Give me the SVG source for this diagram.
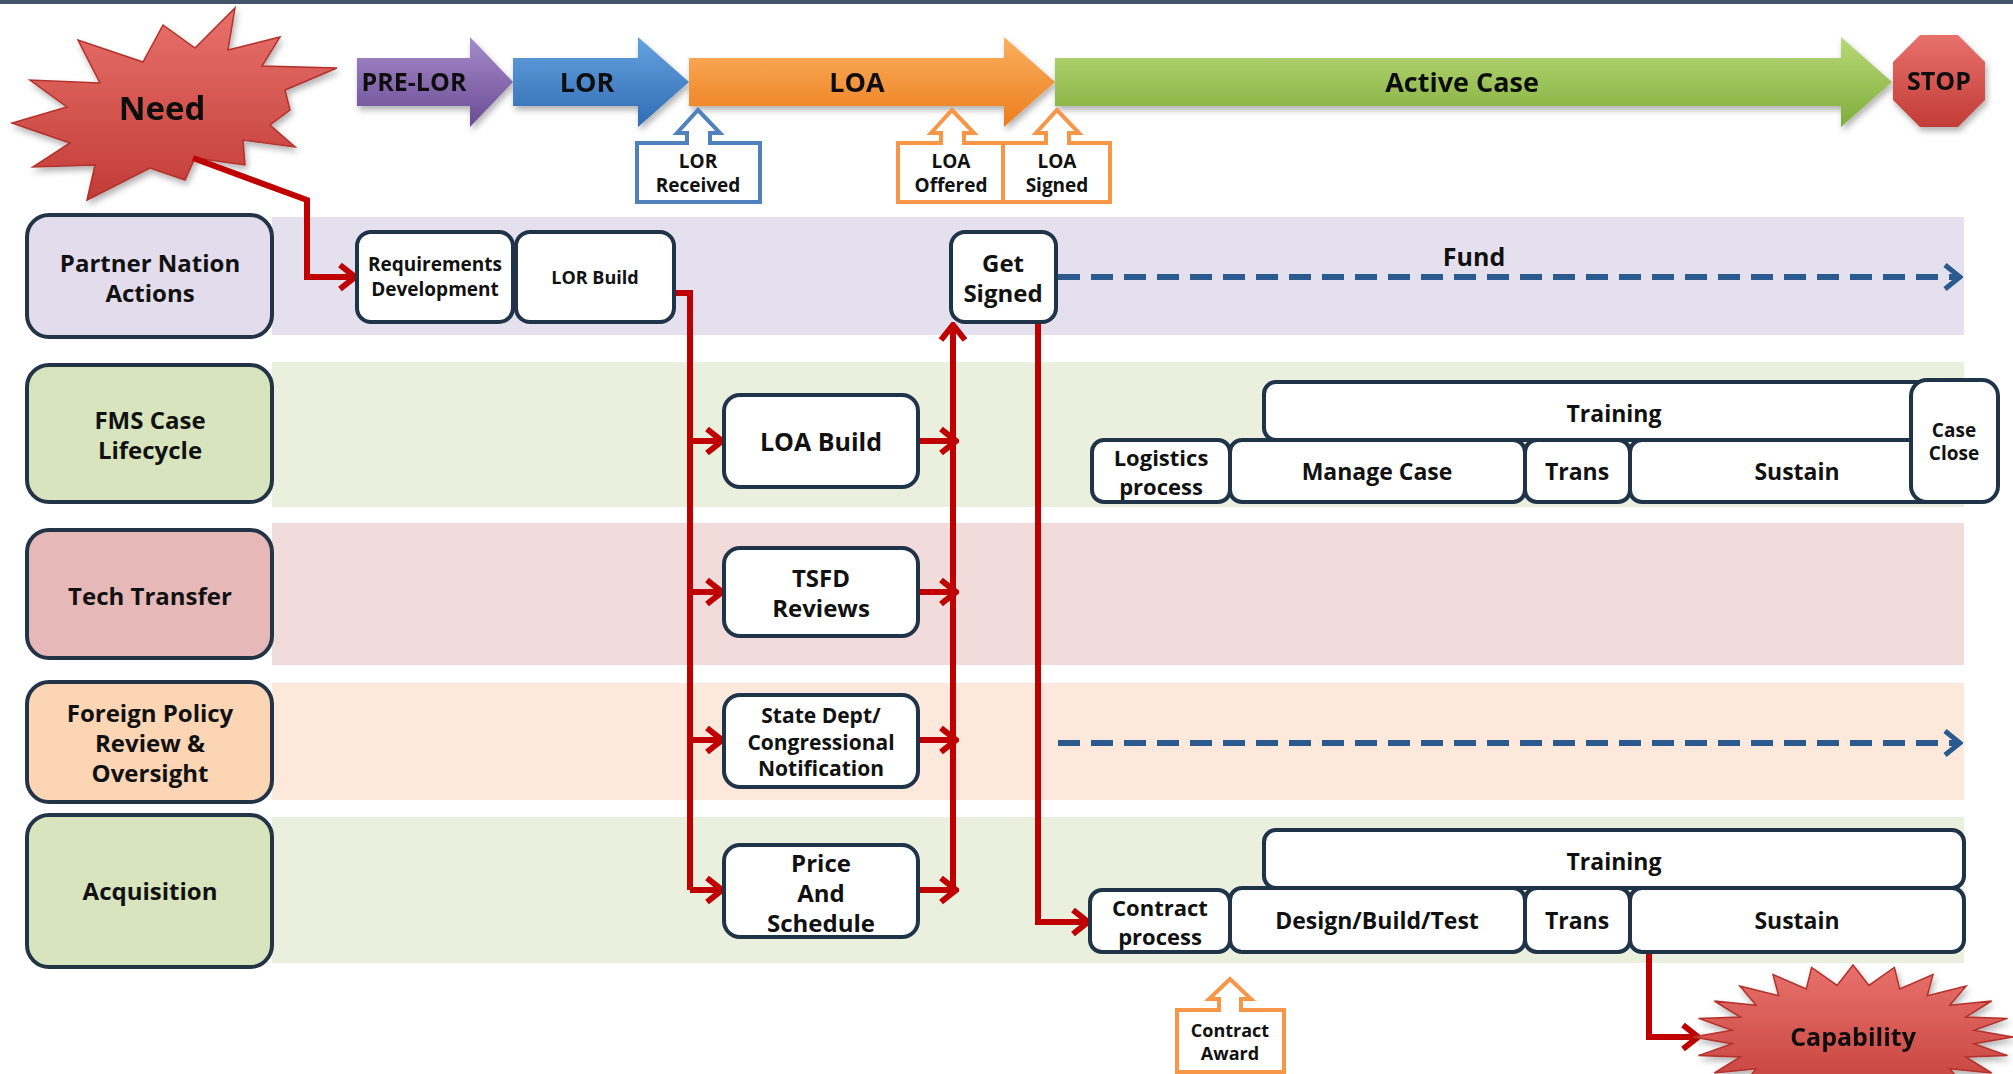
<svg xmlns="http://www.w3.org/2000/svg" width="2013" height="1074" viewBox="0 0 2013 1074">
<defs>
<style>
text{font-family:"Open Sans","Liberation Sans",sans-serif;font-weight:bold;fill:#111;text-anchor:middle;dominant-baseline:central}
.lab{stroke:#243447;stroke-width:4}
.node{fill:#fff;stroke:#1f3349;stroke-width:4}
.red{fill:none;stroke:#c00000;stroke-width:6;stroke-linejoin:miter}
.dash{fill:none;stroke:#2b5a8e;stroke-width:6;stroke-dasharray:22 11}
.co{fill:#fff;stroke-width:4}
.f24{font-size:24px}.f23{font-size:23px}.f22{font-size:22px}.f21{font-size:21px}.f19{font-size:19px}.f18{font-size:18px}.f27{font-size:27px}
</style>
<linearGradient id="gP" x1="0" y1="0" x2="0" y2="1"><stop offset="0" stop-color="#a58bcb"/><stop offset="1" stop-color="#6a4b93"/></linearGradient>
<linearGradient id="gB" x1="0" y1="0" x2="0" y2="1"><stop offset="0" stop-color="#66a2e0"/><stop offset="1" stop-color="#2f6cb3"/></linearGradient>
<linearGradient id="gO" x1="0" y1="0" x2="0" y2="1"><stop offset="0" stop-color="#fbb060"/><stop offset="1" stop-color="#ec7d1c"/></linearGradient>
<linearGradient id="gG" x1="0" y1="0" x2="0" y2="1"><stop offset="0" stop-color="#b9d978"/><stop offset="1" stop-color="#80ad3c"/></linearGradient>
<linearGradient id="gR" x1="0" y1="0" x2="0" y2="1"><stop offset="0" stop-color="#e8716c"/><stop offset="1" stop-color="#c23c37"/></linearGradient>
<filter id="sh" x="-10%" y="-10%" width="130%" height="140%"><feDropShadow dx="2" dy="4" stdDeviation="3" flood-color="#000" flood-opacity="0.3"/></filter>
<marker id="ar" viewBox="0 0 20 30" markerWidth="20" markerHeight="30" refX="17" refY="15" orient="auto" markerUnits="userSpaceOnUse"><path d="M2,3 L17,15 L2,27" fill="none" stroke="#c00000" stroke-width="6"/></marker>
<marker id="ab" viewBox="0 0 20 30" markerWidth="20" markerHeight="30" refX="17" refY="15" orient="auto" markerUnits="userSpaceOnUse"><path d="M2,3 L17,15 L2,27" fill="none" stroke="#2b5a8e" stroke-width="5"/></marker>
</defs>
<rect x="0" y="0" width="2013" height="1074" fill="#fff"/>
<rect x="0" y="0" width="2013" height="4" fill="#44546a"/>

<g id="bands">
<rect x="272" y="217" width="1692" height="118" fill="#e5e0ee"/>
<rect x="272" y="362" width="1692" height="145" fill="#eaf0dd"/>
<rect x="272" y="523" width="1692" height="142" fill="#f2dcdb"/>
<rect x="272" y="683" width="1692" height="117" fill="#fde9db"/>
<rect x="272" y="817" width="1692" height="146" fill="#eaf0dd"/>
</g>

<g id="lane-partner"><rect class="lab" x="27" y="215" width="245" height="122" rx="22" fill="#e2dcec"/><text class="f24" x="150" y="262">Partner Nation</text><text class="f24" x="150" y="292">Actions</text></g>
<g id="lane-fms"><rect class="lab" x="27" y="365" width="245" height="137" rx="22" fill="#d7e4bd"/><text class="f24" x="150" y="419">FMS Case</text><text class="f24" x="150" y="449">Lifecycle</text></g>
<g id="lane-tech"><rect class="lab" x="27" y="530" width="245" height="128" rx="22" fill="#e6b9b8"/><text class="f24" x="150" y="595">Tech Transfer</text></g>
<g id="lane-foreign"><rect class="lab" x="27" y="682" width="245" height="120" rx="22" fill="#fcd5b5"/><text class="f24" x="150" y="712">Foreign Policy</text><text class="f24" x="150" y="742">Review &amp;</text><text class="f24" x="150" y="772">Oversight</text></g>
<g id="lane-acq"><rect class="lab" x="27" y="815" width="245" height="152" rx="22" fill="#d7e4bd"/><text class="f24" x="150" y="890">Acquisition</text></g>

<g id="phase-prelor" filter="url(#sh)"><path d="M357,58 H470 V37 L513,82 L470,127 V106 H357 Z" fill="url(#gP)"/><text x="414" y="81" style="font-size:25px">PRE-LOR</text></g>
<g id="phase-lor" filter="url(#sh)"><path d="M513,58 H638 V37 L689,82 L638,127 V106 H513 Z" fill="url(#gB)"/><text class="f27" x="587" y="81">LOR</text></g>
<g id="phase-loa" filter="url(#sh)"><path d="M689,58 H1004 V37 L1055,82 L1004,127 V106 H689 Z" fill="url(#gO)"/><text class="f27" x="857" y="81">LOA</text></g>
<g id="phase-active" filter="url(#sh)"><path d="M1055,58 H1841 V37 L1892,82 L1841,127 V106 H1055 Z" fill="url(#gG)"/><text class="f27" x="1462" y="81">Active Case</text></g>
<g id="stop" filter="url(#sh)"><polygon points="1920,35 1958,35 1985,62 1985,100 1958,127 1920,127 1893,100 1893,62" fill="url(#gR)"/><text x="1939" y="80" style="font-size:25px">STOP</text></g>

<g id="need" filter="url(#sh)"><polygon points="235,8 228,50 280,37 262,66 337,68 285,90 290,110 270,125 295,147 243,140 245,165 195,158 185,180 150,168 87,200 95,165 33,167 70,143 12,123 67,107 30,80 100,83 78,40 143,62 163,25 195,48" fill="url(#gR)" stroke="#b3302c" stroke-width="1.5"/><text x="162" y="107" style="font-size:33px">Need</text></g>

<g id="callout-lor-received"><path class="co" stroke="#4f81bd" d="M637,143 H687 V133 H677 L698,110 L720,133 H710 V143 H760 V202 H637 Z"/><text class="f19" x="698" y="161">LOR</text><text class="f19" x="698" y="185">Received</text></g>
<g id="callout-loa-offered"><path class="co" stroke="#f79646" d="M898,143 H941 V133 H931 L952,110 L974,133 H964 V143 H1003 V202 H898 Z"/><text class="f19" x="951" y="161">LOA</text><text class="f19" x="951" y="185">Offered</text></g>
<g id="callout-loa-signed"><path class="co" stroke="#f79646" d="M1003,143 H1046 V133 H1036 L1057,110 L1079,133 H1069 V143 H1110 V202 H1003 Z"/><text class="f19" x="1057" y="161">LOA</text><text class="f19" x="1057" y="185">Signed</text></g>
<g id="callout-contract-award"><path class="co" stroke="#f79646" d="M1177,1010 H1219 V999 H1209 L1230,979 L1251,999 H1241 V1010 H1284 V1072 H1177 Z"/><text class="f18" x="1230" y="1030">Contract</text><text class="f18" x="1230" y="1053">Award</text></g>

<g id="connectors">
<path class="red" d="M193,158 L307,200 V277 H355" marker-end="url(#ar)"/>
<path class="red" d="M674,293 H690 V890"/>
<path class="red" d="M690,441 H722" marker-end="url(#ar)"/>
<path class="red" d="M690,592 H722" marker-end="url(#ar)"/>
<path class="red" d="M690,740 H722" marker-end="url(#ar)"/>
<path class="red" d="M690,890 H722" marker-end="url(#ar)"/>
<path class="red" d="M918,441 H956" marker-end="url(#ar)"/>
<path class="red" d="M918,592 H956" marker-end="url(#ar)"/>
<path class="red" d="M918,740 H956" marker-end="url(#ar)"/>
<path class="red" d="M918,890 H956" marker-end="url(#ar)"/>
<path class="red" d="M953,893 V325" marker-end="url(#ar)"/>
<path class="red" d="M1038,322 V922 H1088" marker-end="url(#ar)"/>
<path class="red" d="M1649,952 V1037 H1698" marker-end="url(#ar)"/>
<path class="dash" d="M1058,277 H1960" marker-end="url(#ab)"/>
<path class="dash" d="M1058,743 H1960" marker-end="url(#ab)"/>
</g>

<g id="req-dev"><rect class="node" x="357" y="232" width="156" height="90" rx="14"/><text class="f19" x="435" y="264">Requirements</text><text class="f19" x="435" y="289">Development</text></g>
<g id="lor-build"><rect class="node" x="516" y="232" width="158" height="90" rx="14"/><text class="f18" x="595" y="277">LOR Build</text></g>
<g id="get-signed"><rect class="node" x="951" y="232" width="105" height="90" rx="14"/><text class="f24" x="1003" y="262">Get</text><text class="f24" x="1003" y="292">Signed</text></g>
<text id="fund" x="1474" y="256" style="font-size:25px">Fund</text>

<g id="loa-build"><rect class="node" x="724" y="395" width="194" height="92" rx="16"/><text x="821" y="441" style="font-size:25px">LOA Build</text></g>
<g id="tsfd"><rect class="node" x="724" y="548" width="194" height="88" rx="16"/><text class="f24" x="821" y="577">TSFD</text><text class="f24" x="821" y="607">Reviews</text></g>
<g id="state-dept"><rect class="node" x="724" y="695" width="194" height="92" rx="16"/><text class="f21" x="821" y="715">State Dept/</text><text class="f21" x="821" y="742">Congressional</text><text class="f21" x="821" y="768">Notification</text></g>
<g id="price"><rect class="node" x="724" y="845" width="194" height="92" rx="16"/><text class="f24" x="821" y="862">Price</text><text class="f24" x="821" y="892">And</text><text class="f24" x="821" y="922">Schedule</text></g>

<g id="fms-training"><rect class="node" x="1264" y="382" width="700" height="58" rx="12"/><text class="f23" x="1614" y="413">Training</text></g>
<g id="logistics"><rect class="node" x="1092" y="440" width="138" height="62" rx="12"/><text class="f22" x="1161" y="457">Logistics</text><text class="f22" x="1161" y="486">process</text></g>
<g id="manage-case"><rect class="node" x="1230" y="440" width="295" height="62" rx="12"/><text class="f23" x="1377" y="471">Manage Case</text></g>
<g id="fms-trans"><rect class="node" x="1525" y="440" width="105" height="62" rx="12"/><text class="f23" x="1577" y="471">Trans</text></g>
<g id="fms-sustain"><rect class="node" x="1630" y="440" width="334" height="62" rx="12"/><text class="f23" x="1797" y="471">Sustain</text></g>
<g id="case-close"><rect class="node" x="1911" y="380" width="87" height="122" rx="16"/><text class="f19" x="1954" y="430">Case</text><text class="f19" x="1954" y="453">Close</text></g>

<g id="acq-training"><rect class="node" x="1264" y="830" width="700" height="58" rx="12"/><text class="f23" x="1614" y="861">Training</text></g>
<g id="contract-process"><rect class="node" x="1090" y="890" width="140" height="62" rx="12"/><text class="f22" x="1160" y="907">Contract</text><text class="f22" x="1160" y="936">process</text></g>
<g id="dbt"><rect class="node" x="1230" y="888" width="295" height="64" rx="12"/><text class="f23" x="1377" y="920">Design/Build/Test</text></g>
<g id="acq-trans"><rect class="node" x="1525" y="888" width="105" height="64" rx="12"/><text class="f23" x="1577" y="920">Trans</text></g>
<g id="acq-sustain"><rect class="node" x="1630" y="888" width="334" height="64" rx="12"/><text class="f23" x="1797" y="920">Sustain</text></g>

<g id="capability" filter="url(#sh)"><polygon points="2013,1037 1974,1043.8 2007.5,1055.6 1965.7,1056.9 1991.6,1073 1949.8,1068.7 1966.1,1087.9 1927.3,1078.3 1933,1099.4 1899.7,1085 1894.4,1106.5 1868.9,1088.6 1853,1109 1837.1,1088.6 1811.6,1106.5 1806.3,1085 1773,1099.4 1778.7,1078.3 1739.9,1087.9 1756.2,1068.7 1714.4,1073 1740.3,1056.9 1698.5,1055.6 1732,1043.8 1693,1037 1732,1030.2 1698.5,1018.4 1740.3,1017.1 1714.4,1001 1756.2,1005.3 1739.9,986.1 1778.7,995.7 1773,974.6 1806.3,989 1811.6,967.5 1837.1,985.4 1853,965 1868.9,985.4 1894.4,967.5 1899.7,989 1933,974.6 1927.3,995.7 1966.1,986.1 1949.8,1005.3 1991.6,1001 1965.7,1017.1 2007.5,1018.4 1974,1030.2" fill="url(#gR)" stroke="#b3302c" stroke-width="1.5"/><text x="1853" y="1036" style="font-size:25px">Capability</text></g>
</svg>
